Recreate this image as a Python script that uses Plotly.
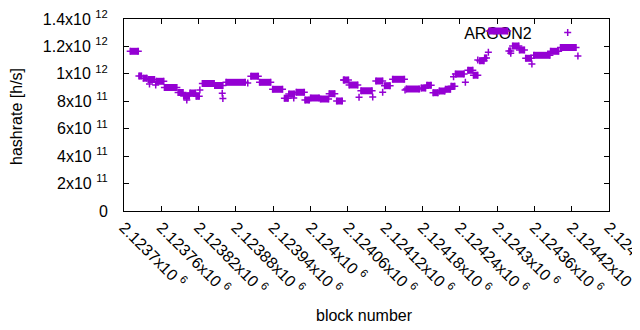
import plotly.graph_objects as go

# ---- data ----
# runs of consecutive blocks sharing one hashrate estimate
seg_start = [2123710, 2123724, 2123731, 2123739, 2123752, 2123765, 2123787, 2123796,
             2123806, 2123816, 2123826, 2123846, 2123864, 2123904, 2123918, 2123939,
             2123958, 2123965, 2123977, 2123991, 2124000, 2124016, 2124030, 2124042,
             2124053, 2124062, 2124081, 2124105, 2124119, 2124132, 2124154, 2124178,
             2124187, 2124197, 2124207, 2124217, 2124226, 2124233, 2124253, 2124262,
             2124272, 2124280, 2124287, 2124319, 2124325, 2124336, 2124346, 2124359,
             2124386, 2124402]
seg_end = [2123723, 2123728, 2123737, 2123749, 2123764, 2123785, 2123795, 2123805,
           2123815, 2123821, 2123845, 2123859, 2123895, 2123916, 2123936, 2123955,
           2123964, 2123974, 2123990, 2123998, 2124014, 2124029, 2124039, 2124051,
           2124061, 2124076, 2124099, 2124116, 2124128, 2124151, 2124175, 2124185,
           2124194, 2124205, 2124216, 2124225, 2124232, 2124247, 2124261, 2124269,
           2124279, 2124283, 2124317, 2124322, 2124335, 2124344, 2124355, 2124385,
           2124399, 2124427]
seg_hashrate = [1.1645e12, 0.9844e12, 0.9683e12, 0.9589e12, 0.9457e12, 0.9005e12, 0.8641e12, 0.8385e12,
                0.8604e12, 0.8364e12, 0.9297e12, 0.9151e12, 0.9384e12, 0.9829e12, 0.9384e12, 0.8874e12,
                0.8218e12, 0.8531e12, 0.8655e12, 0.8094e12, 0.8240e12, 0.8167e12, 0.8553e12, 0.8021e12,
                0.9552e12, 0.9188e12, 0.8765e12, 0.9479e12, 0.9137e12, 0.9603e12, 0.8896e12, 0.8969e12,
                0.9166e12, 0.8626e12, 0.8750e12, 0.8874e12, 0.9093e12, 0.9990e12, 1.0259e12, 0.9902e12,
                1.0959e12, 1.1156e12, 1.3125e12, 1.1667e12, 1.2031e12, 1.1740e12, 1.1134e12, 1.1353e12,
                1.1645e12, 1.1922e12]
# single outlying blocks
iso_block = [2123741, 2123751, 2123801, 2123822, 2123858, 2123859, 2123899, 2123973,
             2124054, 2124078, 2124100, 2124116, 2124152, 2124230, 2124249, 2124269,
             2124286, 2124322, 2124356, 2124430]
iso_hashrate = [0.9260e12, 0.9188e12, 0.8094e12, 0.8823e12, 0.8582e12, 0.8203e12, 0.9333e12, 0.8240e12,
                0.9552e12, 0.8291e12, 0.8313e12, 0.8655e12, 0.8823e12, 0.9793e12, 0.9384e12, 1.1010e12,
                1.1572e12, 1.1499e12, 1.0719e12, 1.1302e12]

x_tick_vals = [2123700 + 60 * i for i in range(14)]
x_tick_text = ["2.1237", "2.12376", "2.12382", "2.12388", "2.12394", "2.124", "2.12406",
               "2.12412", "2.12418", "2.12424", "2.1243", "2.12436", "2.12442", "2.12448"]
y_tick_vals = [0, 2e11, 4e11, 6e11, 8e11, 1e12, 1.2e12, 1.4e12]
y_tick_text = ["0", "2x10 <sup>11</sup>", "4x10 <sup>11</sup>", "6x10 <sup>11</sup>",
               "8x10 <sup>11</sup>", "1x10 <sup>12</sup>", "1.2x10 <sup>12</sup>", "1.4x10 <sup>12</sup>"]

COLOR = "#9400D3"
FONT = "Liberation Sans, Arial, sans-serif"

# ---- build traces ----
line_x, line_y = [], []
for s, e, v in zip(seg_start, seg_end, seg_hashrate):
    line_x += [s, e, None]
    line_y += [v, v, None]

pt_x = seg_start + seg_end + iso_block
pt_y = seg_hashrate + seg_hashrate + iso_hashrate

fig = go.Figure()
fig.add_trace(go.Scatter(x=line_x, y=line_y, mode="lines",
                         line=dict(color=COLOR, width=7), showlegend=False,
                         hoverinfo="skip"))
fig.add_trace(go.Scatter(x=pt_x, y=pt_y, mode="markers", name=" ",
                         marker=dict(symbol="cross-thin", size=5, color=COLOR,
                                     line=dict(width=1.5, color=COLOR)),
                         showlegend=True))

axis_common = dict(showline=True, linecolor="black", linewidth=1, mirror="allticks",
                   ticks="inside", ticklen=5, tickcolor="black", tickwidth=1,
                   showgrid=False, zeroline=False, ticklabeloverflow="allow",
                   tickfont=dict(family=FONT, size=16, color="black"))

# the page body adds an 8px margin, so the figure is 8px smaller than the window
fig.update_layout(
    width=632, height=322,
    margin=dict(l=116, r=31, t=11, b=119, autoexpand=False),
    paper_bgcolor="white", plot_bgcolor="white",
    font=dict(family=FONT, size=16, color="black"),
    xaxis=dict(range=[2123700, 2124480], tickmode="array",
               tickvals=x_tick_vals,
               ticktext=[t + "x10 <sup>6</sup>" for t in x_tick_text],
               tickangle=45, ticklabelstandoff=0, automargin=False, **axis_common),
    yaxis=dict(range=[0, 1.4e12], tickmode="array", tickvals=y_tick_vals,
               ticktext=y_tick_text, ticklabelstandoff=12, automargin=False,
               **axis_common),
    legend=dict(x=0.8736, y=1.018, xanchor="left", yanchor="top",
                bgcolor="rgba(0,0,0,0)", font=dict(family=FONT, size=16)),
    shapes=[dict(type="rect", xref="paper", yref="paper", x0=0.6, x1=0.853,
                 y0=0.90, y1=0.965, line=dict(width=0), fillcolor="rgba(0,0,0,0)",
                 layer="below",
                 label=dict(text="ARGON2", textposition="middle right",
                            font=dict(family=FONT, size=16, color="black")))],
    annotations=[
        dict(text="hashrate [h/s]", xref="paper", yref="paper", x=-0.2206, y=0.49,
             textangle=-90, showarrow=False, xanchor="center", yanchor="middle",
             font=dict(family=FONT, size=16, color="black")),
        dict(text="block number", xref="paper", yref="paper", x=0.495, y=-0.5417,
             showarrow=False, xanchor="center", yanchor="middle",
             font=dict(family=FONT, size=16, color="black")),
    ],
)

fig.write_html("out.html")
